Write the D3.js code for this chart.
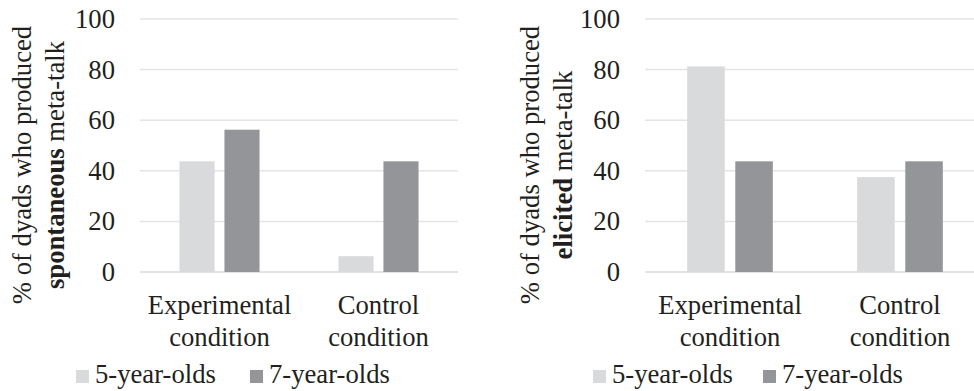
<!DOCTYPE html>
<html>
<head>
<meta charset="utf-8">
<script src="https://cdn.jsdelivr.net/npm/d3@7"></script>
<style>
  html, body { margin: 0; padding: 0; background: #fff; font-family: "Liberation Serif", Tinos, serif; }
  svg { display: block; font-family: "Liberation Serif", Tinos, serif; }
</style>
</head>
<body>
<svg id="chart" width="974" height="391"></svg>
<script>
// ---- data ----
const categories = [["Experimental", "condition"], ["Control", "condition"]];
const seriesNames = ["5-year-olds", "7-year-olds"];
const seriesColors = ["#d9dadc", "#939598"];
const yTicks = [0, 20, 40, 60, 80, 100];
const spontaneous5 = [43.75, 6.25];
const spontaneous7 = [56.25, 43.75];
const elicited5 = [81.25, 37.5];
const elicited7 = [43.75, 43.75];
const titleLine1 = "% of dyads who produced";
const titleBoldLeft = "spontaneous";
const titleBoldRight = "elicited";
const titleRest = " meta-talk";

const svg = d3.select("#chart");
const FONT_CSS = '26.67px "Liberation Serif", Tinos, serif';
const TXT = "#231f20";

function txt(sel) {
  return sel.attr("fill", TXT).style("font", FONT_CSS);
}

function drawChart(cfg) {
  const catKeys = categories.map(c => c.join(" "));
  const x0 = d3.scaleBand().domain(catKeys).range([cfg.x0, cfg.x1]).paddingInner(0).paddingOuter(0);
  const x1 = d3.scaleBand().domain(seriesNames).range([0, x0.bandwidth()]).paddingInner(0.22).paddingOuter(0.877);
  const y = d3.scaleLinear().domain([0, 100]).range([272, 19]);

  yTicks.forEach(d => {
    svg.append("line")
      .attr("x1", cfg.x0).attr("x2", cfg.x1)
      .attr("y1", y(d)).attr("y2", y(d))
      .attr("stroke", d === 0 ? "#d9d9d9" : "#e4e4e4")
      .attr("stroke-width", 1.5);
    txt(svg.append("text"))
      .attr("x", cfg.x0 - 25).attr("y", y(d) + 9)
      .attr("text-anchor", "end")
      .text(d);
  });

  catKeys.forEach((c, i) => {
    cfg.values.forEach((vals, s) => {
      const v = vals[i];
      svg.append("rect")
        .attr("x", x0(c) + x1(seriesNames[s]))
        .attr("width", x1.bandwidth())
        .attr("y", y(v))
        .attr("height", y(0) - y(v))
        .attr("fill", seriesColors[s]);
    });
  });

  categories.forEach((lines, i) => {
    const cx = x0(catKeys[i]) + x0.bandwidth() / 2;
    lines.forEach((ln, j) => {
      txt(svg.append("text")).attr("x", cx).attr("y", 314 + j * 31.5)
        .attr("text-anchor", "middle").text(ln);
    });
  });

  txt(svg.append("text")).attr("text-anchor", "middle")
    .attr("transform", `translate(${cfg.titleX},165) rotate(-90)`).text(titleLine1);
  const t2 = txt(svg.append("text")).attr("text-anchor", "middle")
    .attr("transform", `translate(${cfg.titleX + 33},165) rotate(-90)`);
  t2.append("tspan").style("font-weight", "bold").text(cfg.bold);
  t2.append("tspan").text(titleRest);

  seriesNames.forEach((name, s) => {
    const lx = cfg.legendX[s];
    svg.append("rect").attr("x", lx).attr("y", 370).attr("width", 13).attr("height", 13).attr("fill", seriesColors[s]);
    txt(svg.append("text")).attr("x", lx + 19).attr("y", 383).text(name);
  });
}

drawChart({ x0: 140, x1: 458, titleX: 31, values: [spontaneous5, spontaneous7], bold: titleBoldLeft, legendX: [76, 250] });
drawChart({ x0: 645, x1: 985, titleX: 539, values: [elicited5, elicited7], bold: titleBoldRight, legendX: [593, 763] });
</script>
</body>
</html>
